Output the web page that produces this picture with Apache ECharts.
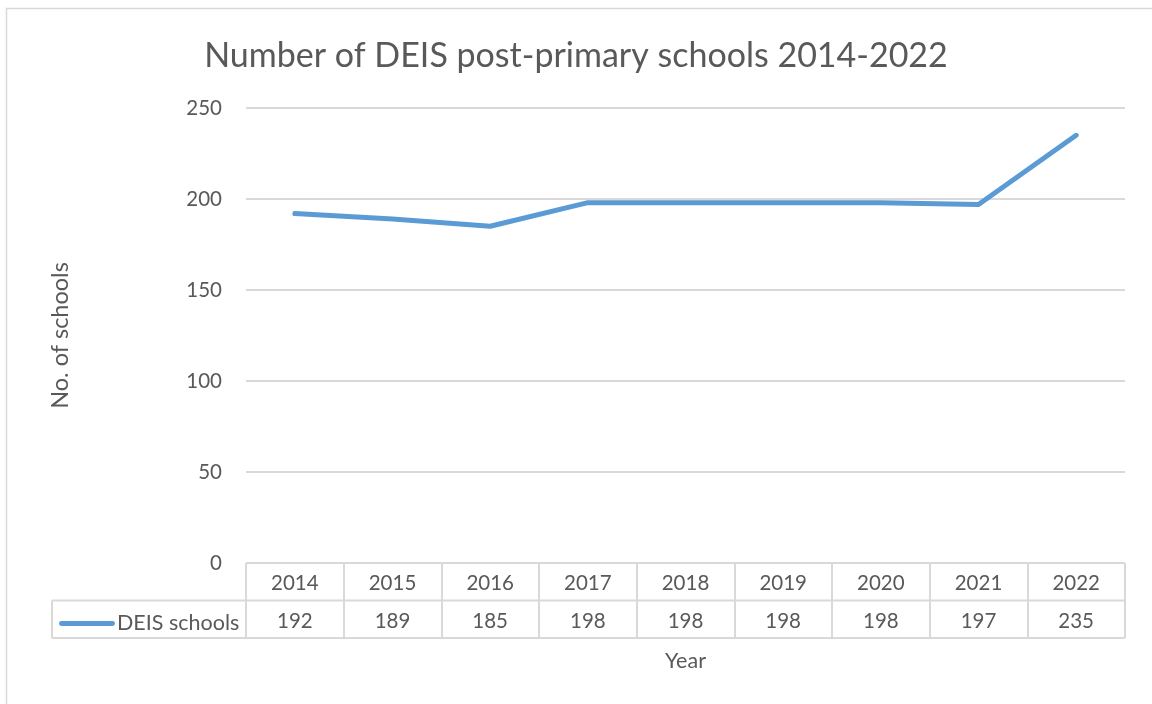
<!DOCTYPE html>
<html>
<head>
<meta charset="utf-8">
<script src="https://cdn.jsdelivr.net/npm/echarts@6/dist/echarts.min.js"></script>
<style>
html,body{margin:0;padding:0;background:#fff;}
#c{width:1152px;height:704px;}
</style>
</head>
<body>
<div id="c"></div>
<script>
const years = ['2014','2015','2016','2017','2018','2019','2020','2021','2022'];
const deisSchools = [192, 189, 185, 198, 198, 198, 198, 197, 235];
const yTicks = [0, 50, 100, 150, 200, 250];
const seriesName = 'DEIS schools';
const titleText = 'Number of DEIS post-primary schools 2014-2022';

const FONT = 'Lato';
const TXT = '#595959';
const GRID = '#d9d9d9';
const L = 246, R = 1125, T = 108, B = 563;
const ROW = 37.5;

const chart = echarts.init(document.getElementById('c'), null, {renderer: 'canvas'});
const option = {
  backgroundColor: '#ffffff',
  animation: false,
  textStyle: {fontFamily: FONT, color: TXT},
  title: {
    text: titleText, left: 'center', top: 34,
    textStyle: {fontFamily: FONT, fontSize: 34, fontWeight: 'normal', color: TXT}
  },
  grid: {left: L, right: 1152 - R, top: T, bottom: 704 - B, containLabel: false},
  xAxis: [
    {
      type: 'category', data: years, position: 'bottom', boundaryGap: true,
      axisLine: {show: false},
      axisTick: {show: true, length: ROW * 2, lineStyle: {color: GRID, width: 2}},
      axisLabel: {margin: 10, fontSize: 20.5, color: TXT, fontFamily: FONT}
    },
    {
      type: 'category', data: years, position: 'bottom', offset: ROW, boundaryGap: true,
      axisLine: {show: false}, axisTick: {show: false},
      axisLabel: {margin: 10, fontSize: 20.5, color: TXT, fontFamily: FONT,
        formatter: function (v, i) { return String(deisSchools[i]); }},
      name: 'Year', nameLocation: 'middle', nameGap: 50,
      nameTextStyle: {fontSize: 21.5, color: TXT, fontFamily: FONT}
    }
  ],
  yAxis: {
    type: 'value', min: yTicks[0], max: yTicks[yTicks.length - 1], interval: 50,
    axisLine: {show: false}, axisTick: {show: false},
    splitLine: {lineStyle: {color: GRID, width: 2}},
    axisLabel: {margin: 24, fontSize: 20.5, color: TXT, fontFamily: FONT},
    name: 'No. of schools', nameLocation: 'middle', nameGap: 174, nameRotate: 90,
    nameTextStyle: {fontSize: 23.5, color: TXT, fontFamily: FONT}
  },
  legend: {
    show: true, left: 54, top: B + ROW + 7, itemWidth: 56, itemHeight: 5, itemGap: 0,
    icon: 'roundRect',
    textStyle: {fontSize: 21.5, color: TXT, fontFamily: FONT, padding: [0,0,0,-3]},
    data: [{name: seriesName, icon: 'path://M2,0 L54,0 A2.5,2.5 0 0 1 54,5 L2,5 A2.5,2.5 0 0 1 2,0 Z'}]
  },
  series: [{
    name: seriesName, type: 'line', data: deisSchools, xAxisIndex: 0,
    symbol: 'none', smooth: false,
    lineStyle: {color: '#5b9bd5', width: 5, cap: 'round', join: 'round'},
    itemStyle: {color: '#5b9bd5'}
  }],
  graphic: [
    {type: 'rect', silent: true, z: -1, shape: {x: 6.5, y: 8.5, width: 1200, height: 800},
      style: {fill: 'none', stroke: GRID, lineWidth: 1.5}},
    {type: 'line', silent: true, shape: {x1: L, y1: B, x2: R, y2: B}, style: {stroke: GRID, lineWidth: 2}},
    {type: 'line', silent: true, shape: {x1: 52, y1: B + ROW, x2: R, y2: B + ROW}, style: {stroke: GRID, lineWidth: 2}},
    {type: 'line', silent: true, shape: {x1: 52, y1: B + ROW * 2, x2: R, y2: B + ROW * 2}, style: {stroke: GRID, lineWidth: 2}},
    {type: 'line', silent: true, shape: {x1: 52, y1: B + ROW, x2: 52, y2: B + ROW * 2}, style: {stroke: GRID, lineWidth: 2}}
  ]
};
chart.setOption(option);
</script>
</body>
</html>
